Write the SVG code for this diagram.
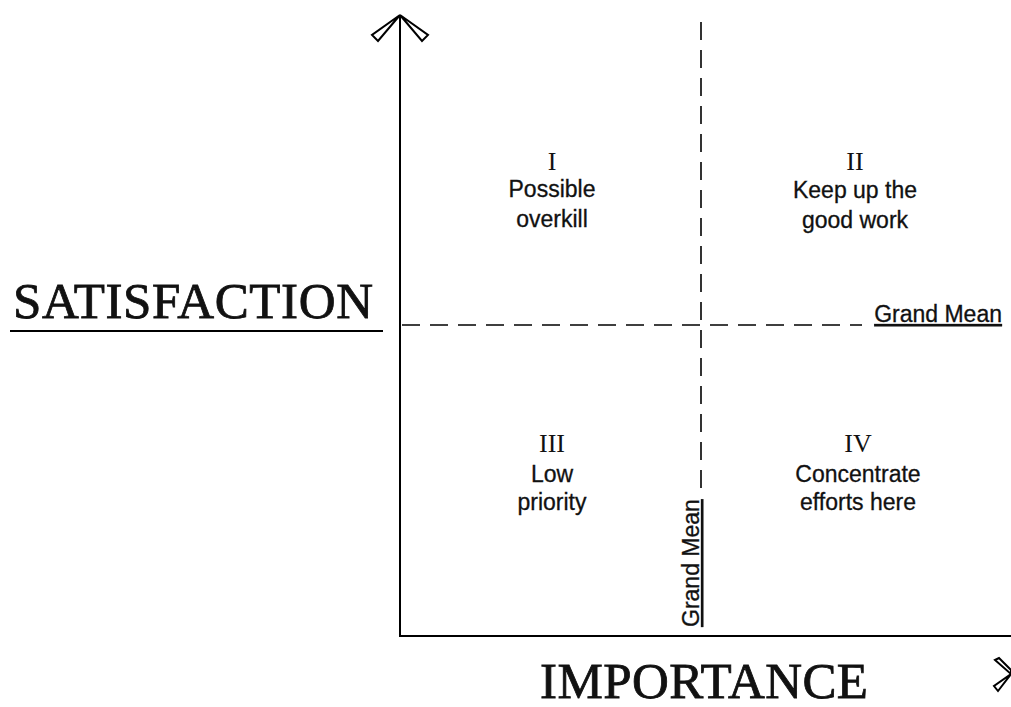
<svg xmlns="http://www.w3.org/2000/svg" width="1011" height="707" viewBox="0 0 1011 707">
<style>
.ax{stroke:#000;stroke-width:2;fill:none}
.dash{stroke:#000;stroke-width:1.6;stroke-dasharray:18 10;fill:none}
.head{stroke:#000;stroke-width:2;fill:#fff;stroke-linejoin:miter}
.num{font-family:"Liberation Serif",serif;font-size:26px;fill:#111;text-anchor:middle}
.lbl{font-family:"Liberation Sans",Arial,sans-serif;font-size:23px;fill:#111;text-anchor:middle;stroke:#111;stroke-width:0.3}
.big{font-family:"Liberation Serif",serif;font-size:51px;fill:#111;stroke:#111;stroke-width:0.8}
.gm{font-family:"Liberation Sans",Arial,sans-serif;font-size:23px;fill:#111;text-decoration:underline;stroke:#111;stroke-width:0.3}
</style>
<rect width="1011" height="707" fill="#fff"/>
<g id="connectors">
<line class="ax" x1="400" y1="16" x2="400" y2="636"/>
<line class="ax" x1="399" y1="636" x2="1011" y2="636"/>
<line class="dash" x1="402" y1="325" x2="862" y2="325"/>
<line class="dash" x1="701" y1="22" x2="701" y2="490"/>
<polygon class="head" points="400,15 372,35 378,41"/>
<polygon class="head" points="400,15 428,35 422,41"/>
<polygon class="head" points="995,660 999,658 1011,670 1011,674"/>
<polygon class="head" points="1011,674 994,686 998,691"/>
</g>
<g id="q1"><text class="num" x="552" y="170">I</text><text class="lbl" x="552" y="197">Possible</text><text class="lbl" x="552" y="227">overkill</text></g>
<g id="q2"><text class="num" x="855" y="170">II</text><text class="lbl" x="855" y="198">Keep up the</text><text class="lbl" x="855" y="228">good work</text></g>
<g id="q3"><text class="num" x="552" y="452">III</text><text class="lbl" x="552" y="482">Low</text><text class="lbl" x="552" y="510">priority</text></g>
<g id="q4"><text class="num" x="858" y="452">IV</text><text class="lbl" x="858" y="482">Concentrate</text><text class="lbl" x="858" y="510">efforts here</text></g>
<g id="satisfaction"><text class="big" x="13" y="318" textLength="360">SATISFACTION</text><line class="ax" x1="10" y1="331" x2="383" y2="331"/></g>
<g id="importance"><text class="big" x="540" y="698" textLength="328">IMPORTANCE</text></g>
<g id="grand-mean-h"><text class="gm" x="1002" y="322" text-anchor="end">Grand Mean</text></g>
<g id="grand-mean-v"><text class="gm" transform="translate(699,627) rotate(-90)">Grand Mean</text></g>
</svg>
